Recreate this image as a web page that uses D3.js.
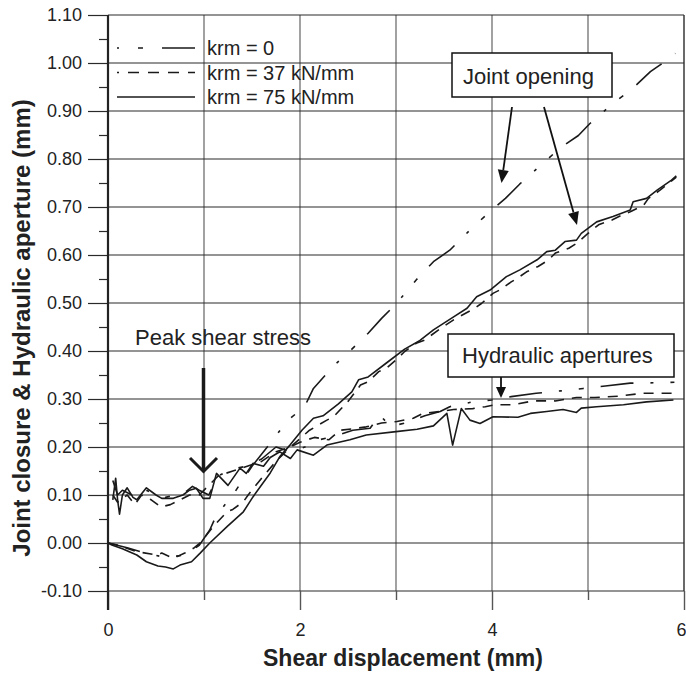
<!DOCTYPE html>
<html>
<head>
<meta charset="utf-8">
<script src="https://cdn.jsdelivr.net/npm/d3@7"></script>
<style>
  html, body { margin: 0; padding: 0; background: #fff; }
  svg { display: block; font-family: "Liberation Sans", Arial, Helvetica, sans-serif; }
</style>
</head>
<body>
<svg id="chart" width="686" height="675"></svg>
<script>
// Shear displacement (mm) vs joint closure / hydraulic aperture (mm)

// Joint closure / opening curves
const closureKrm0 = [[0,0],[0.2,-0.01],[0.4,-0.022],[0.6,-0.03],[0.8,-0.025],[0.95,-0.005],[1.06,0.027],[1.13,0.058],[1.3,0.1],[1.5,0.16],[1.7,0.21],[1.86,0.253],[2.05,0.285],[2.14,0.322],[2.36,0.371],[2.52,0.4],[2.71,0.437],[2.85,0.468],[2.99,0.496],[3.08,0.517],[3.21,0.548],[3.39,0.586],[3.56,0.61],[3.79,0.656],[3.96,0.687],[4.14,0.718],[4.29,0.748],[4.53,0.791],[4.71,0.823],[4.9,0.849],[5.02,0.874],[5.28,0.919],[5.45,0.944],[5.65,0.982],[5.8,1.003],[5.91,1.02]];

const closureKrm37 = [[0,0],[0.1,-0.004],[0.3,-0.018],[0.51,-0.025],[0.56,-0.021],[0.68,-0.032],[0.8,-0.021],[0.89,-0.011],[0.96,0.0],[1.1,0.035],[1.24,0.065],[1.3,0.07],[1.41,0.086],[1.46,0.1],[1.6,0.135],[1.75,0.17],[1.9,0.2],[2.1,0.235],[2.28,0.256],[2.35,0.263],[2.5,0.295],[2.63,0.329],[2.71,0.336],[2.82,0.357],[2.9,0.364],[3.02,0.385],[3.09,0.399],[3.21,0.416],[3.3,0.423],[3.45,0.445],[3.6,0.465],[3.72,0.478],[3.82,0.489],[3.89,0.499],[4.01,0.52],[4.08,0.527],[4.2,0.544],[4.26,0.551],[4.36,0.565],[4.48,0.576],[4.59,0.59],[4.66,0.604],[4.8,0.614],[4.88,0.624],[5.0,0.645],[5.11,0.663],[5.25,0.673],[5.35,0.683],[5.44,0.69],[5.58,0.704],[5.63,0.718],[5.75,0.735],[5.92,0.762]];

const closureKrm75 = [[0,0],[0.04,-0.004],[0.15,-0.012],[0.3,-0.025],[0.4,-0.039],[0.52,-0.048],[0.6,-0.05],[0.68,-0.054],[0.75,-0.046],[0.87,-0.039],[0.96,-0.021],[1.06,0.0],[1.24,0.034],[1.41,0.065],[1.51,0.096],[1.69,0.146],[1.79,0.18],[1.9,0.205],[2.02,0.235],[2.14,0.26],[2.24,0.265],[2.4,0.29],[2.54,0.315],[2.61,0.34],[2.71,0.346],[2.9,0.375],[3.09,0.404],[3.25,0.422],[3.39,0.444],[3.6,0.471],[3.74,0.489],[3.84,0.513],[3.98,0.527],[4.15,0.555],[4.29,0.569],[4.47,0.59],[4.57,0.607],[4.66,0.61],[4.76,0.628],[4.88,0.631],[4.93,0.645],[5.09,0.669],[5.26,0.68],[5.44,0.694],[5.47,0.711],[5.61,0.718],[5.72,0.735],[5.87,0.756],[5.92,0.765]];

// Hydraulic aperture curves
const hydraulicKrm0 = [[0.05,0.13],[0.1,0.1],[0.15,0.11],[0.25,0.1],[0.35,0.115],[0.45,0.105],[0.6,0.095],[0.7,0.1],[0.8,0.105],[0.88,0.118],[0.95,0.11],[1.05,0.1],[1.15,0.14],[1.3,0.155],[1.45,0.16],[1.6,0.175],[1.75,0.2],[1.9,0.19],[2.05,0.2],[2.2,0.215],[2.4,0.225],[2.55,0.235],[2.73,0.239],[2.83,0.267],[2.94,0.243],[3.1,0.25],[3.3,0.265],[3.46,0.274],[3.56,0.284],[3.8,0.294],[4.0,0.298],[4.2,0.305],[4.46,0.312],[4.72,0.317],[4.95,0.322],[5.18,0.327],[5.44,0.333],[5.77,0.334],[5.9,0.335]];

const hydraulicKrm37 = [[0.05,0.1],[0.1,0.085],[0.2,0.1],[0.28,0.08],[0.35,0.1],[0.45,0.09],[0.55,0.075],[0.65,0.08],[0.75,0.09],[0.85,0.1],[0.95,0.1],[1.05,0.12],[1.15,0.14],[1.3,0.15],[1.45,0.16],[1.6,0.17],[1.75,0.19],[1.9,0.2],[2.0,0.21],[2.15,0.22],[2.3,0.215],[2.42,0.235],[2.55,0.238],[2.69,0.242],[2.85,0.25],[3.01,0.253],[3.18,0.26],[3.28,0.27],[3.46,0.274],[3.6,0.278],[3.8,0.28],[3.93,0.284],[4.03,0.288],[4.22,0.288],[4.43,0.296],[4.66,0.296],[4.88,0.303],[5.07,0.303],[5.32,0.306],[5.57,0.312],[5.9,0.312]];

const hydraulicKrm75 = [[0.05,0.09],[0.08,0.135],[0.1,0.09],[0.12,0.06],[0.15,0.1],[0.2,0.115],[0.26,0.095],[0.3,0.09],[0.4,0.115],[0.5,0.1],[0.56,0.093],[0.68,0.093],[0.78,0.1],[0.85,0.11],[0.92,0.114],[0.99,0.093],[1.06,0.093],[1.13,0.145],[1.25,0.12],[1.375,0.156],[1.44,0.145],[1.51,0.166],[1.62,0.16],[1.69,0.178],[1.79,0.19],[1.9,0.176],[1.97,0.194],[2.14,0.183],[2.28,0.204],[2.52,0.215],[2.69,0.225],[3.0,0.232],[3.22,0.237],[3.39,0.244],[3.53,0.27],[3.59,0.204],[3.68,0.28],[3.77,0.256],[3.875,0.249],[4.01,0.263],[4.27,0.262],[4.4,0.27],[4.57,0.274],[4.74,0.278],[4.88,0.272],[4.93,0.281],[5.09,0.284],[5.37,0.288],[5.61,0.294],[5.89,0.298]];

const legendLabels = ["krm = 0", "krm = 37 kN/mm", "krm = 75 kN/mm"];
const xMajorTicks = [0, 2, 4, 6];
const xMinorTicks = [1, 3, 5];
const yMajorTicks = [-0.1, 0, 0.1, 0.2, 0.3, 0.4, 0.5, 0.6, 0.7, 0.8, 0.9, 1.0, 1.1];
const yMinorTicks = [-0.05, 0.05, 0.15, 0.25, 0.35, 0.45, 0.55, 0.65, 0.75, 0.85, 0.95, 1.05];

const svg = d3.select("#chart");
const x = d3.scaleLinear().domain([0, 6]).range([108, 684]);
const y = d3.scaleLinear().domain([-0.1, 1.1]).range([591, 15]);

const ink = "#1a1a1a";
const dashDot = "33,17,3,17,5,17";
const dashed = "10,8";

// vertical grid
svg.append("g").selectAll("line").data([1, 2, 3, 4, 5]).join("line")
  .attr("x1", d => x(d)).attr("x2", d => x(d))
  .attr("y1", y(1.1)).attr("y2", y(-0.1))
  .attr("stroke", "#7a7a7a").attr("stroke-width", 1.4);

// horizontal grid
svg.append("g").selectAll("line").data(yMajorTicks).join("line")
  .attr("x1", x(0)).attr("x2", x(6))
  .attr("y1", d => y(d)).attr("y2", d => y(d))
  .attr("stroke", "#2a2a2a").attr("stroke-width", 1.2);

// right frame
svg.append("line").attr("x1", x(6)).attr("x2", x(6)).attr("y1", y(1.1)).attr("y2", y(-0.1))
  .attr("stroke", "#2a2a2a").attr("stroke-width", 1.4);

// y axis (plain hyphen for negative values)
const yAxis = svg.append("g").attr("transform", `translate(${x(0)},0)`)
  .call(d3.axisLeft(y).tickValues(yMajorTicks).tickSize(20).tickPadding(6)
    .tickFormat(d => (Math.abs(d) < 1e-9 ? 0 : d).toFixed(2)));
yAxis.select(".domain").remove();
yAxis.selectAll(".tick line").attr("stroke", "#2a2a2a").attr("stroke-width", 1.2);
yAxis.selectAll("text").attr("font-size", 18).attr("fill", "#222")
  .attr("font-family", "'Liberation Sans', Arial, sans-serif");

const yMinor = svg.append("g").attr("transform", `translate(${x(0)},0)`)
  .call(d3.axisLeft(y).tickValues(yMinorTicks).tickSize(9).tickFormat(""));
yMinor.select(".domain").remove();
yMinor.selectAll(".tick line").attr("stroke", "#2a2a2a").attr("stroke-width", 1.2);

// x axis
const xAxis = svg.append("g").attr("transform", `translate(0,${y(-0.1)})`)
  .call(d3.axisBottom(x).tickValues(xMajorTicks).tickSize(19).tickPadding(13).tickFormat(d3.format("d")));
xAxis.select(".domain").remove();
xAxis.selectAll(".tick line").attr("stroke", "#555").attr("stroke-width", 1.4);
xAxis.selectAll("text").attr("font-size", 18).attr("fill", "#222")
  .attr("font-family", "'Liberation Sans', Arial, sans-serif");
// the last label sits against the right edge of the page
xAxis.selectAll(".tick text").filter(d => d === 6)
  .attr("text-anchor", "end").attr("dx", 2);

const xMinor = svg.append("g").attr("transform", `translate(0,${y(-0.1)})`)
  .call(d3.axisBottom(x).tickValues(xMinorTicks).tickSize(9).tickFormat(""));
xMinor.select(".domain").remove();
xMinor.selectAll(".tick line").attr("stroke", "#555").attr("stroke-width", 1.4);

// y axis line
svg.append("line").attr("x1", x(0)).attr("x2", x(0)).attr("y1", y(1.1)).attr("y2", y(-0.1) + 19)
  .attr("stroke", "#222").attr("stroke-width", 2.2);

// data curves
const line = d3.line().x(d => x(d[0])).y(d => y(d[1]));
const series = [
  { data: closureKrm0, dash: dashDot },
  { data: hydraulicKrm0, dash: dashDot },
  { data: closureKrm37, dash: dashed },
  { data: hydraulicKrm37, dash: dashed },
  { data: closureKrm75, dash: null },
  { data: hydraulicKrm75, dash: null }
];
svg.append("g").selectAll("path").data(series).join("path")
  .attr("d", d => line(d.data))
  .attr("fill", "none").attr("stroke", ink).attr("stroke-width", 1.6)
  .attr("stroke-linejoin", "round")
  .attr("stroke-dasharray", d => d.dash);

// legend
const legendDash = ["2,19,5,19,40", "2,9,11,9,11,9,11,9,11", null];
const legend = svg.append("g");
legendLabels.forEach((label, i) => {
  const ly = [48, 72.5, 97][i];
  legend.append("line").attr("x1", 117).attr("x2", 195).attr("y1", ly).attr("y2", ly)
    .attr("stroke", ink).attr("stroke-width", 1.6).attr("stroke-dasharray", legendDash[i]);
  legend.append("text").attr("x", 207).attr("y", ly + 7).attr("font-size", 20).attr("fill", "#222")
    .text(label);
});

// arrow helper with filled head
function arrow(g, x1, y1, x2, y2, len, half, width) {
  const a = Math.atan2(y2 - y1, x2 - x1);
  const bx = x2 - len * Math.cos(a), by = y2 - len * Math.sin(a);
  g.append("line").attr("x1", x1).attr("y1", y1).attr("x2", bx).attr("y2", by)
    .attr("stroke", "#111").attr("stroke-width", width);
  const px = -Math.sin(a) * half, py = Math.cos(a) * half;
  g.append("polygon")
    .attr("points", `${x2},${y2} ${bx + px},${by + py} ${bx - px},${by - py}`)
    .attr("fill", "#111");
}

const notes = svg.append("g");

// Joint opening label
notes.append("rect").attr("x", 452).attr("y", 53).attr("width", 160).attr("height", 44)
  .attr("fill", "#fff").attr("stroke", "#111").attr("stroke-width", 1.5);
notes.append("text").attr("x", 463).attr("y", 84).attr("font-size", 22).attr("fill", "#222")
  .text("Joint opening");
arrow(notes, 512, 107, 501.5, 183, 13, 5.5, 1.8);
arrow(notes, 544, 107, 577, 225, 13, 5.5, 1.8);

// Hydraulic apertures label
notes.append("rect").attr("x", 448).attr("y", 334).attr("width", 226).attr("height", 43)
  .attr("fill", "#fff").attr("stroke", "#111").attr("stroke-width", 1.5);
notes.append("text").attr("x", 462).attr("y", 363).attr("font-size", 22).attr("fill", "#222")
  .text("Hydraulic apertures");
arrow(notes, 501, 377, 501, 398, 11, 5, 1.8);

// Peak shear stress label
notes.append("text").attr("x", 135).attr("y", 345).attr("font-size", 22).attr("fill", "#222")
  .text("Peak shear stress");
notes.append("line").attr("x1", x(1) - 0.5).attr("x2", x(1) - 0.5).attr("y1", 368).attr("y2", 470)
  .attr("stroke", "#1a1a1a").attr("stroke-width", 3.5);
notes.append("polyline").attr("points", `190,458 ${x(1) - 0.5},471.5 217,458`)
  .attr("fill", "none").attr("stroke", "#1a1a1a").attr("stroke-width", 3);

// axis titles
svg.append("text").attr("x", 403).attr("y", 666).attr("text-anchor", "middle")
  .attr("font-size", 23).attr("font-weight", "bold").attr("fill", "#222")
  .text("Shear displacement (mm)");
svg.append("text").attr("transform", "translate(30,328) rotate(-90)").attr("text-anchor", "middle")
  .attr("font-size", 24).attr("font-weight", "bold").attr("fill", "#222")
  .text("Joint closure & Hydraulic aperture (mm)");
</script>
</body>
</html>
